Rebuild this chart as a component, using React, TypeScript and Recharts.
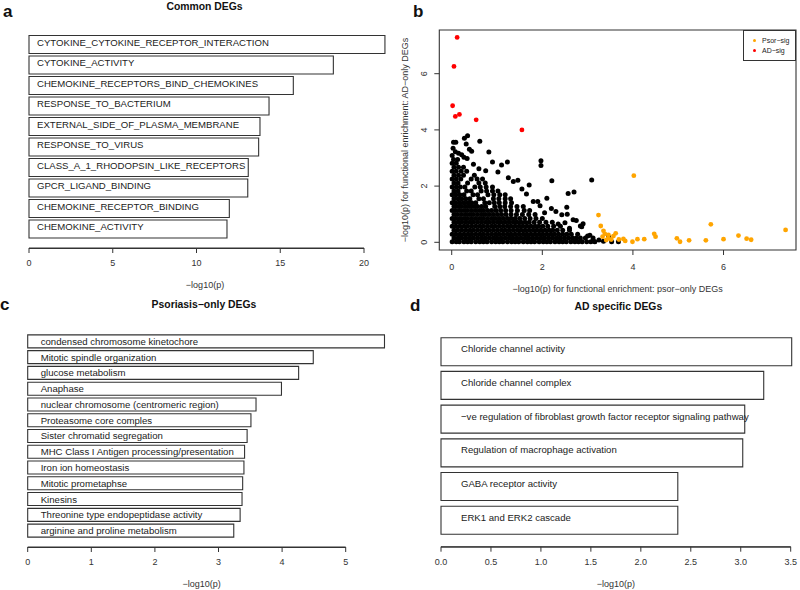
import React from 'react';
import {
  BarChart,
  Bar,
  XAxis,
  YAxis,
  ReferenceArea,
  LabelList,
  ScatterChart,
  Scatter,
  Legend,
} from 'recharts';

const FONT = '"Liberation Sans", Arial, Helvetica, sans-serif';
const INK = '#333';

// a: Common DEGs
const commonTerms = [
  'CYTOKINE_CYTOKINE_RECEPTOR_INTERACTION',
  'CYTOKINE_ACTIVITY',
  'CHEMOKINE_RECEPTORS_BIND_CHEMOKINES',
  'RESPONSE_TO_BACTERIUM',
  'EXTERNAL_SIDE_OF_PLASMA_MEMBRANE',
  'RESPONSE_TO_VIRUS',
  'CLASS_A_1_RHODOPSIN_LIKE_RECEPTORS',
  'GPCR_LIGAND_BINDING',
  'CHEMOKINE_RECEPTOR_BINDING',
  'CHEMOKINE_ACTIVITY',
];
const commonScores = [21.25, 18.17, 15.78, 14.33, 13.79, 13.71, 13.09, 13.06, 11.96, 11.82];
const commonTicks = [0, 5, 10, 15, 20];

// c: Psoriasis-only DEGs
const psorTerms = [
  'condensed chromosome kinetochore',
  'Mitotic spindle organization',
  'glucose metabolism',
  'Anaphase',
  'nuclear chromosome (centromeric region)',
  'Proteasome core comples',
  'Sister chromatid segregation',
  'MHC Class I Antigen processing/presentation',
  'Iron ion homeostasis',
  'Mitotic prometaphse',
  'Kinesins',
  'Threonine type endopeptidase activity',
  'arginine and proline metabolism',
];
const psorScores = [5.61, 4.49, 4.26, 3.99, 3.59, 3.51, 3.45, 3.41, 3.4, 3.38, 3.37, 3.34, 3.24];
const psorTicks = [0, 1, 2, 3, 4, 5];

// d: AD specific DEGs
const adTerms = [
  'Chloride channel activity',
  'Chloride channel complex',
  '\u2212ve regulation of fibroblast growth factor receptor signaling pathway',
  'Regulation of macrophage activation',
  'GABA receptor activity',
  'ERK1 and ERK2 cascade',
];
const adScores = [3.51, 3.23, 3.04, 3.02, 2.37, 2.37];
const adTicks = [0, 0.5, 1, 1.5, 2, 2.5, 3, 3.5];

// b: scatter
const legendNames = ['Psor\u2212sig', 'AD\u2212sig'];
const adSigPoints: [number, number][] = [
  [0.12, 7.29], [0.05, 6.26], [0.02, 4.86], [0.08, 4.48], [0.17, 4.55], [0.54, 4.36], [1.55, 4.0],
];
const psorSigPoints: [number, number][] = [
  [4.02, 2.37], [3.24, 0.97], [3.29, 0.58], [3.35, 0.41], [3.38, 0.3], [3.33, 0.2], [3.41, 0.08],
  [3.46, 0.26], [3.57, 0.22], [3.62, 0.32], [3.69, 0.1], [3.79, 0.12], [3.83, 0.05], [3.99, 0.02],
  [4.1, 0.11], [4.25, 0.11], [4.47, 0.3], [4.5, 0.2], [4.97, 0.14], [5.04, 0.02], [5.24, 0.07],
  [5.61, 0.07], [5.72, 0.64], [6.0, 0.11], [6.33, 0.24], [6.51, 0.13], [6.61, 0.09], [7.37, 0.44],
  [3.45, 0.14], [3.52, 0.1],
];

// b: the dense block of non-significant terms, read row by row (y, xs)
const blackRows: [number, number[]][] = [
  [0.02, [0.01, 0.1, 0.17, 0.27, 0.35, 0.43, 0.53, 0.62, 0.7, 0.78, 0.88, 0.97, 1.05, 1.13, 1.23, 1.32, 1.4, 1.48, 1.58, 1.67, 1.75, 1.83, 1.93, 2.02, 2.1, 2.18, 2.28, 2.37, 2.45, 2.53, 2.63, 2.72, 2.8, 2.88, 2.98, 3.07, 3.16]],
  [0.15, [0.05, 0.14, 0.22, 0.31, 0.4, 0.48, 0.57, 0.66, 0.74, 0.83, 0.92, 1.0, 1.09, 1.18, 1.27, 1.35, 1.44, 1.53, 1.62, 1.7, 1.79, 1.88, 1.97, 2.05, 2.14, 2.23, 2.32, 2.4, 2.49, 2.58, 2.67, 2.75, 2.84, 2.95]],
  [0.29, [0.01, 0.09, 0.18, 0.27, 0.36, 0.44, 0.53, 0.62, 0.7, 0.79, 0.88, 0.97, 1.05, 1.14, 1.23, 1.31, 1.4, 1.49, 1.58, 1.66, 1.75, 1.84, 1.93, 2.01, 2.1, 2.19, 2.27, 2.36, 2.45, 2.54, 2.64, 2.78]],
  [0.43, [0.05, 0.13, 0.22, 0.31, 0.4, 0.48, 0.57, 0.66, 0.75, 0.83, 0.92, 1.01, 1.1, 1.18, 1.27, 1.36, 1.45, 1.53, 1.62, 1.71, 1.8, 1.88, 1.97, 2.06, 2.15, 2.23, 2.33, 2.45, 2.6]],
  [0.57, [0.01, 0.09, 0.18, 0.27, 0.35, 0.44, 0.53, 0.62, 0.7, 0.79, 0.88, 0.96, 1.05, 1.14, 1.23, 1.31, 1.4, 1.49, 1.57, 1.66, 1.75, 1.84, 1.92, 2.01, 2.12, 2.25, 2.4]],
  [0.71, [0.05, 0.14, 0.22, 0.31, 0.4, 0.48, 0.57, 0.66, 0.75, 0.83, 0.92, 1.01, 1.09, 1.18, 1.27, 1.36, 1.44, 1.53, 1.62, 1.71, 1.82, 1.94, 2.08, 2.22]],
  [0.85, [0.01, 0.09, 0.18, 0.27, 0.35, 0.44, 0.53, 0.62, 0.7, 0.79, 0.88, 0.96, 1.05, 1.14, 1.23, 1.31, 1.4, 1.5, 1.61, 1.73, 1.86, 2.0]],
  [0.99, [0.05, 0.13, 0.22, 0.31, 0.4, 0.48, 0.57, 0.66, 0.74, 0.83, 0.92, 1.01, 1.1, 1.2, 1.31, 1.43, 1.56, 1.7, 1.84]],
  [1.13, [0.01, 0.09, 0.18, 0.27, 0.35, 0.44, 0.53, 0.62, 0.7, 0.79, 0.88, 0.98, 1.08, 1.19, 1.31, 1.45, 1.6, 1.72]],
  [1.27, [0.05, 0.14, 0.22, 0.31, 0.4, 0.49, 0.57, 0.66, 0.75, 0.95, 1.06, 1.17, 1.3, 1.44, 1.58]],
  [1.41, [0.01, 0.09, 0.18, 0.27, 0.36, 0.44, 0.53, 0.73, 0.83, 0.94, 1.05, 1.18, 1.32]],
  [1.55, [0.05, 0.14, 0.22, 0.31, 0.4, 0.6, 0.7, 0.92, 1.04, 1.18, 1.3]],
  [1.69, [0.01, 0.09, 0.18, 0.27, 0.47, 0.57, 0.8, 0.93, 1.06, 1.18]],
  [1.83, [0.05, 0.14, 0.33, 0.43, 0.65, 0.77, 0.9, 1.02]],
  [1.97, [0.01, 0.1, 0.19, 0.29, 0.51, 0.63, 0.76, 0.9]],
  [2.11, [0.05, 0.14, 0.35, 0.6, 0.74]],
  [2.25, [0.01, 0.1, 0.2, 0.43, 0.56, 0.68]],
  [2.39, [0.05, 0.15, 0.26, 0.5]],
  [2.53, [0.01, 0.1, 0.21, 0.33]],
  [2.67, [0.05, 0.15, 0.26]],
  [2.81, [0.01, 0.1]],
  [2.95, [0.04, 0.13]],
  [3.09, [0.01]],
];
const blackSparse: [number, number][] = [
  [0.35, 3.79], [0.28, 3.7], [0.04, 3.56], [0.09, 3.56], [0.62, 3.6], [0.32, 3.5], [0.82, 3.21],
  [0.39, 3.31], [0.44, 3.24], [0.15, 3.17], [0.22, 3.12], [0.27, 3.03], [0.34, 2.98], [0.08, 3.22],
  [0.03, 3.35], [0.9, 2.86], [1.1, 2.75], [1.23, 2.86], [1.97, 2.9], [1.97, 2.73], [0.75, 2.55],
  [0.6, 2.62], [1.02, 2.5], [0.48, 2.78], [2.21, 2.19], [3.09, 2.22], [1.71, 2.04], [1.36, 2.16],
  [1.46, 2.21], [1.25, 2.3], [1.55, 1.9], [1.65, 1.72], [2.57, 1.74], [2.7, 1.79], [2.1, 1.57],
  [1.8, 1.45], [1.9, 1.45], [1.95, 1.3], [2.54, 1.25], [2.2, 1.2], [2.3, 1.1], [2.05, 1.05],
  [2.43, 0.98], [2.55, 1.0], [2.68, 0.8], [2.75, 0.78], [2.35, 0.65], [2.5, 0.7], [2.6, 0.5],
  [2.84, 0.58], [2.9, 0.66], [2.87, 0.55], [3.05, 0.25], [3.0, 0.22], [3.12, 0.15], [3.13, 0.05],
  [3.25, 0.08], [3.35, 0.04], [3.46, 0.2], [3.53, 0.02], [3.68, 0.02],
];
const scatterTicks = [0, 2, 4, 6];
const scatterXDomain = [-0.274, 7.6];
const scatterYDomain = [-0.274, 7.555];

interface BarPanelProps {
  terms: string[];
  scores: number[];
  ticks: number[];
  left: number;
  top: number;
  height: number;
  margin: { top: number; right: number; bottom: number; left: number };
  padTop: number;
  padBottom: number;
  gap: string;
  labelOffset: number;
  labelDy: number;
  titleDx: number;
  tickFormat?: (v: number) => string;
}

// Like R, the x axis stops at the last tick; bars may run past it.
const BarPanel = (p: BarPanelProps) => {
  const rows = p.terms.map((term, i) => ({ term, score: p.scores[i] }));
  const lastTick = p.ticks[p.ticks.length - 1];

  // axis title, and the axis line drawn again along the top of the axis box
  const axisTitle = (lp: any) => {
    const vb = lp.viewBox;
    if (!vb) return null;
    return (
      <g>
        <path d={`M${vb.x},${vb.y + 0.5}H${vb.x + vb.width}`} stroke={INK} strokeWidth={1} fill="none" />
        <text
          x={vb.x + vb.width / 2 + p.titleDx}
          y={vb.y + vb.height - 2}
          textAnchor="middle"
          fontSize={9}
          fill={INK}
        >
          {'\u2212log10(p)'}
        </text>
      </g>
    );
  };

  return (
    <div className="bar-panel" style={{ position: 'absolute', left: p.left, top: p.top }}>
      <BarChart
        layout="vertical"
        width={400}
        height={p.height}
        data={rows}
        margin={p.margin}
        barCategoryGap={p.gap}
      >
        <XAxis
          type="number"
          domain={[0, lastTick]}
          allowDataOverflow
          ticks={p.ticks}
          interval={0}
          axisLine={{ stroke: INK, strokeWidth: 1 }}
          tickLine={{ stroke: INK }}
          tickSize={5}
          tickMargin={7}
          height={42}
          tick={{ fontSize: 9, fill: INK }}
          tickFormatter={p.tickFormat}
          label={{ content: axisTitle }}
        />
        <YAxis type="category" dataKey="term" hide padding={{ top: p.padTop, bottom: p.padBottom }} />
        <Bar dataKey="score" fill="#fff" stroke={INK} strokeWidth={1.1} isAnimationActive={false}>
          <LabelList
            dataKey="term"
            content={(lp: any) => {
              const vb = lp.viewBox ?? lp;
              return (
                <text
                  x={vb.x + p.labelOffset}
                  y={vb.y + vb.height / 2 + p.labelDy}
                  dominantBaseline="central"
                  fontSize={9.6}
                  fill="#222"
                >
                  {lp.value}
                </text>
              );
            }}
          />
        </Bar>
      </BarChart>
    </div>
  );
};

const RotTick = (props: any) => {
  const { x, y, payload } = props;
  return (
    <text x={x} y={y} transform={`rotate(-90 ${x} ${y})`} textAnchor="middle" fontSize={9} fill={INK}>
      {payload.value}
    </text>
  );
};

const dot = (r: number, color: string) => (s: any) => <circle cx={s.cx} cy={s.cy} r={r} fill={color} />;

const ScatterPanel = () => {
  const black = [
    ...blackRows.flatMap(([y, xs]) => xs.map((x) => ({ x, y }))),
    ...blackSparse.map(([x, y]) => ({ x, y })),
  ];
  const psor = psorSigPoints.map(([x, y]) => ({ x, y }));
  const ad = adSigPoints.map(([x, y]) => ({ x, y }));
  return (
    <div style={{ position: 'absolute', left: 400, top: 0 }}>
      <ScatterChart width={400} height={300} margin={{ top: 30, right: 4, bottom: 7, left: 17.3 }}>
        <XAxis
          type="number"
          dataKey="x"
          domain={scatterXDomain}
          ticks={scatterTicks}
          interval={0}
          axisLine={false}
          tickLine={{ stroke: INK }}
          tickSize={5}
          tickMargin={9}
          height={43}
          tick={{ fontSize: 9, fill: INK }}
          label={{
            value: '\u2212log10(p) for functional enrichment: psor\u2212only DEGs',
            position: 'insideBottom',
            offset: 1,
            fontSize: 9,
            fill: INK,
          }}
        />
        <YAxis
          type="number"
          dataKey="y"
          domain={scatterYDomain}
          ticks={scatterTicks}
          interval={0}
          axisLine={false}
          tickLine={{ stroke: INK }}
          tickSize={5}
          tickMargin={7}
          width={22}
          tick={<RotTick />}
          label={{
            value: '\u2212log10(p) for functional enrichment: AD\u2212only DEGs',
            angle: -90,
            position: 'left',
            offset: 12,
            fontSize: 9,
            fill: INK,
            style: { textAnchor: 'middle' },
          }}
        />
        <ReferenceArea
          x1={scatterXDomain[0]}
          x2={scatterXDomain[1]}
          y1={scatterYDomain[0]}
          y2={scatterYDomain[1]}
          fill="none"
          stroke={INK}
          strokeWidth={1.1}
        />
        <Scatter data={black} fill="#000" legendType="none" shape={dot(2.5, '#000')} isAnimationActive={false} />
        <Scatter name={legendNames[0]} data={psor} fill="#FFA500" shape={dot(2.4, '#FFA500')} isAnimationActive={false} />
        <Scatter name={legendNames[1]} data={ad} fill="#FF0000" shape={dot(2.4, '#FF0000')} isAnimationActive={false} />
        <Legend
          layout="horizontal"
          verticalAlign="middle"
          align="center"
          wrapperStyle={{ left: 343, top: 30, width: 53, height: 31 }}
          content={(lp: any) => (
            <div
              style={{
                boxSizing: 'border-box',
                width: 53,
                height: 31,
                border: `1px solid ${INK}`,
                background: '#fff',
                padding: '4px 0 0 9px',
                fontSize: 7,
                color: '#222',
              }}
            >
              {(lp.payload || [])
                .filter((e: any) => e.type !== 'none')
                .sort((a: any, b: any) => legendNames.indexOf(a.value) - legendNames.indexOf(b.value))
                .map((e: any) => (
                  <div key={e.value} style={{ display: 'flex', alignItems: 'center', height: 10 }}>
                    <span
                      style={{
                        display: 'inline-block',
                        width: 3,
                        height: 3,
                        borderRadius: '50%',
                        background: e.color,
                        marginRight: 6,
                      }}
                    />
                    {e.value}
                  </div>
                ))}
            </div>
          )}
        />
      </ScatterChart>
    </div>
  );
};

export default function App() {
  const letter = { fontFamily: FONT, fontWeight: 700, fontSize: 17, fill: '#111' };
  const title = { fontFamily: FONT, fontWeight: 700, fontSize: 10.4, fill: '#111', textAnchor: 'middle' as const };
  return (
    <div
      style={{
        position: 'absolute',
        left: 0,
        top: 0,
        width: 800,
        height: 590,
        background: '#fff',
        fontFamily: FONT,
        overflow: 'hidden',
      }}
    >
      {/* bars run past the last tick, so the plot clip is switched off */}
      <style>{'.bar-panel [clip-path] { clip-path: none !important; }'}</style>
      <BarPanel
        terms={commonTerms}
        scores={commonScores}
        ticks={commonTicks}
        left={0}
        top={0}
        height={300}
        margin={{ top: 26, right: 36, bottom: 10, left: 29 }}
        padTop={8}
        padBottom={9}
        gap="7%"
        labelOffset={8}
        labelDy={-2}
        titleDx={8.5}
      />
      <ScatterPanel />
      <BarPanel
        terms={psorTerms}
        scores={psorScores}
        ticks={psorTicks}
        left={0}
        top={300}
        height={290}
        margin={{ top: 25, right: 54.3, bottom: 1, left: 27.7 }}
        padTop={8.3}
        padBottom={8.7}
        gap="10%"
        labelOffset={13}
        labelDy={0}
        titleDx={15}
      />
      <BarPanel
        terms={adTerms}
        scores={adScores}
        ticks={adTicks}
        left={400}
        top={300}
        height={290}
        margin={{ top: 25, right: 9.3, bottom: 1.3, left: 41 }}
        padTop={10}
        padBottom={9.4}
        gap="8%"
        labelOffset={20}
        labelDy={-3}
        titleDx={0}
        tickFormat={(v: number) => v.toFixed(1)}
      />
      <svg
        width={800}
        height={590}
        style={{ position: 'absolute', left: 0, top: 0, pointerEvents: 'none' }}
      >
        <text x={3} y={17} style={letter}>a</text>
        <text x={413} y={17} style={letter}>b</text>
        <text x={0} y={309.5} style={letter}>c</text>
        <text x={410} y={311} style={letter}>d</text>
        <text x={204.5} y={9.6} style={title}>Common DEGs</text>
        <text x={204} y={308} style={title}>{'Psoriasis\u2212only DEGs'}</text>
        <text x={618.3} y={309.5} style={title}>AD specific DEGs</text>
      </svg>
    </div>
  );
}
